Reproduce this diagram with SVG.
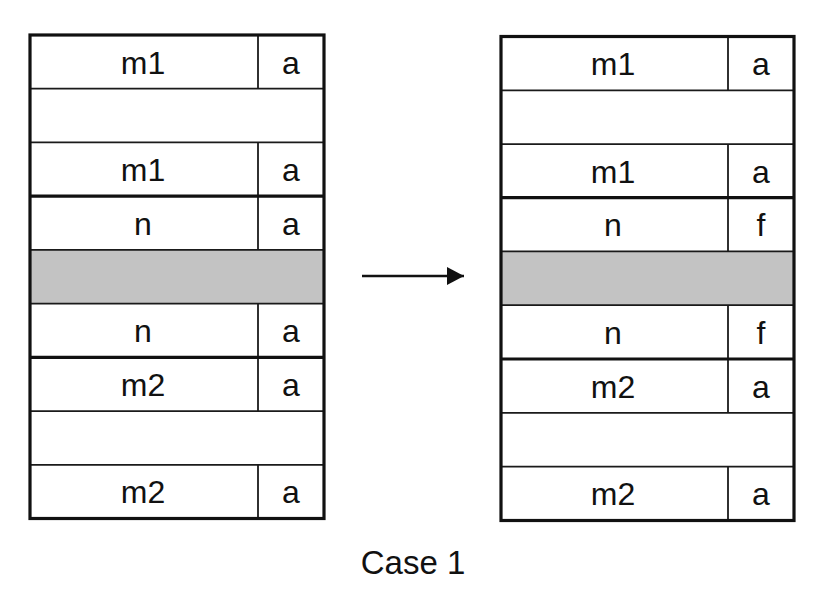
<svg xmlns="http://www.w3.org/2000/svg" width="840" height="604" viewBox="0 0 840 604">
<style>
.bg{fill:#ffffff}
.gray{fill:#c3c3c3}
.thin{stroke:#1a1a1a;stroke-width:1.8;fill:none}
.thick{stroke:#111;stroke-width:3.2;fill:none}
.lbl{font-family:"Liberation Sans",Arial,sans-serif;font-size:32px;fill:#111;text-anchor:middle}
</style>
<defs>
<marker id="ah" markerWidth="17" markerHeight="18" refX="17" refY="9" orient="auto" markerUnits="userSpaceOnUse">
<path d="M0,0 L17,9 L0,18 Z" fill="#111"/>
</marker>
</defs>
<rect width="840" height="604" fill="#ffffff"/>

<g id="left-stack">
<rect class="gray" x="30" y="249.9" width="294" height="53.7"/>
<line class="thin" x1="30" y1="88.7" x2="324" y2="88.7"/>
<line class="thin" x1="30" y1="142.4" x2="324" y2="142.4"/>
<line class="thin" x1="30" y1="249.9" x2="324" y2="249.9"/>
<line class="thin" x1="30" y1="303.6" x2="324" y2="303.6"/>
<line class="thin" x1="30" y1="411.1" x2="324" y2="411.1"/>
<line class="thin" x1="30" y1="464.8" x2="324" y2="464.8"/>
<line class="thin" x1="258" y1="35" x2="258" y2="88.7"/>
<line class="thin" x1="258" y1="142.4" x2="258" y2="249.9"/>
<line class="thin" x1="258" y1="303.6" x2="258" y2="411.1"/>
<line class="thin" x1="258" y1="464.8" x2="258" y2="518.5"/>
<line class="thick" x1="30" y1="196.1" x2="324" y2="196.1"/>
<line class="thick" x1="30" y1="357.4" x2="324" y2="357.4"/>
<rect class="thick" x="30" y="35" width="294" height="483.5"/>
<text class="lbl" x="143" y="73.5">m1</text><text class="lbl" x="291" y="73.5">a</text>
<text class="lbl" x="143" y="181">m1</text><text class="lbl" x="291" y="181">a</text>
<text class="lbl" x="143" y="234.5">n</text><text class="lbl" x="291" y="234.5">a</text>
<text class="lbl" x="143" y="342">n</text><text class="lbl" x="291" y="342">a</text>
<text class="lbl" x="143" y="395.5">m2</text><text class="lbl" x="291" y="395.5">a</text>
<text class="lbl" x="143" y="503">m2</text><text class="lbl" x="291" y="503">a</text>
</g>

<g id="right-stack">
<rect class="gray" x="501" y="251.4" width="293" height="53.8"/>
<line class="thin" x1="501" y1="90.3" x2="794" y2="90.3"/>
<line class="thin" x1="501" y1="144.1" x2="794" y2="144.1"/>
<line class="thin" x1="501" y1="251.4" x2="794" y2="251.4"/>
<line class="thin" x1="501" y1="305.2" x2="794" y2="305.2"/>
<line class="thin" x1="501" y1="412.8" x2="794" y2="412.8"/>
<line class="thin" x1="501" y1="466.6" x2="794" y2="466.6"/>
<line class="thin" x1="728" y1="36.5" x2="728" y2="90.3"/>
<line class="thin" x1="728" y1="144.1" x2="728" y2="251.4"/>
<line class="thin" x1="728" y1="305.2" x2="728" y2="412.8"/>
<line class="thin" x1="728" y1="466.6" x2="728" y2="520.5"/>
<line class="thick" x1="501" y1="197.6" x2="794" y2="197.6"/>
<line class="thick" x1="501" y1="359" x2="794" y2="359"/>
<rect class="thick" x="501" y="36.5" width="293" height="484"/>
<text class="lbl" x="613" y="75">m1</text><text class="lbl" x="761" y="75">a</text>
<text class="lbl" x="613" y="182.5">m1</text><text class="lbl" x="761" y="182.5">a</text>
<text class="lbl" x="613" y="236">n</text><text class="lbl" x="761" y="236">f</text>
<text class="lbl" x="613" y="343.5">n</text><text class="lbl" x="761" y="343.5">f</text>
<text class="lbl" x="613" y="397.5">m2</text><text class="lbl" x="761" y="397.5">a</text>
<text class="lbl" x="613" y="505">m2</text><text class="lbl" x="761" y="505">a</text>
</g>

<g id="connectors">
<line x1="362" y1="276" x2="464" y2="276" stroke="#111" stroke-width="2.4" marker-end="url(#ah)"/>
</g>

<text class="lbl" x="413" y="574" style="font-size:33px">Case 1</text>
</svg>
